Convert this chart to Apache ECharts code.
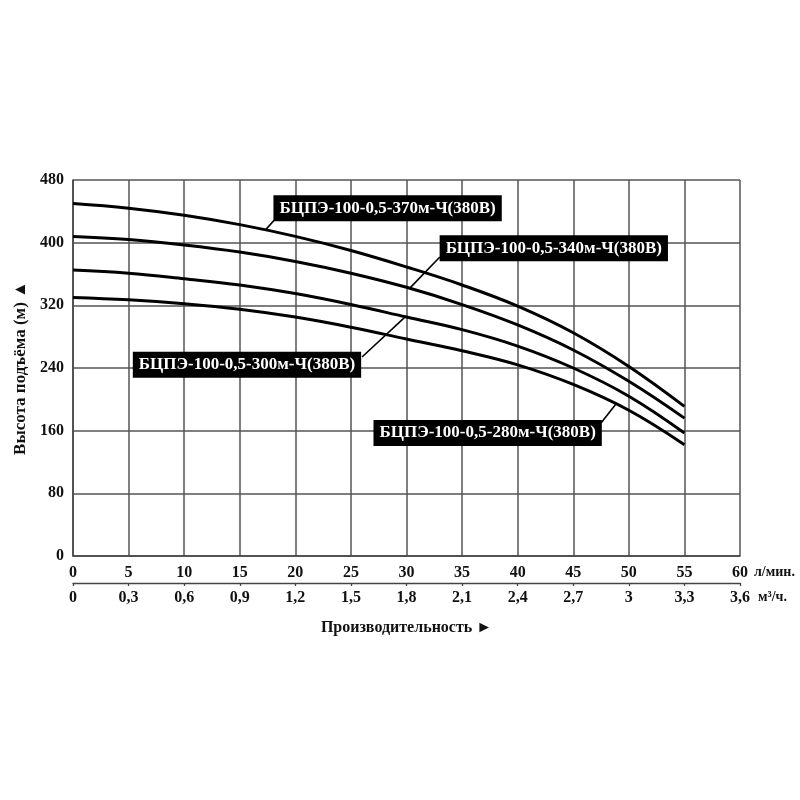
<!DOCTYPE html>
<html>
<head>
<meta charset="utf-8">
<script src="https://cdn.jsdelivr.net/npm/echarts@6/dist/echarts.min.js"></script>
<style>
html,body{margin:0;padding:0;background:#fff;}
#chart{width:800px;height:800px;}
</style>
</head>
<body>
<div id="chart"></div>
<script>
// Flow, l/min
var flowLmin = [0, 5, 10, 15, 20, 25, 30, 35, 40, 45, 50, 55];
// Head (m) for each pump model
var head370 = [450, 444, 435, 423, 408, 390, 369, 346, 319, 285, 242, 191];
var head340 = [408, 404, 397, 388, 376, 361, 343, 321, 295, 263, 223, 176];
var head300 = [365, 361, 354, 346, 335, 321, 305, 289, 268, 240, 204, 157];
var head280 = [330, 327, 322, 315, 305, 292, 277, 262, 244, 219, 186, 142];
var seriesNames = ['БЦПЭ-100-0,5-370м-Ч(380В)', 'БЦПЭ-100-0,5-340м-Ч(380В)', 'БЦПЭ-100-0,5-300м-Ч(380В)', 'БЦПЭ-100-0,5-280м-Ч(380В)'];
var yTicks = [0, 80, 160, 240, 320, 400, 480];
var xTicksLmin = [0, 5, 10, 15, 20, 25, 30, 35, 40, 45, 50, 55, 60];
var xTicksM3h = ['0', '0,3', '0,6', '0,9', '1,2', '1,5', '1,8', '2,1', '2,4', '2,7', '3', '3,3', '3,6'];

// annotation placement (data coordinates): label centre, leader start (on curve), leader end (at box)
var labelPos = [[28.3, 444], [43.25, 393], [15.65, 244], [37.3, 157]];
var leaderFrom = [[17.3, 416], [30.3, 342], [29.86, 305], [48.84, 194]];
var leaderTo = [[18.35, 432.8], [33.0, 381.7], [26.0, 254], [47.5, 169.8]];

var FONT = "'Liberation Serif', 'DejaVu Serif', 'Times New Roman', serif";
var heads = [head370, head340, head300, head280];

var chart = echarts.init(document.getElementById('chart'), null, {renderer: 'canvas'});

var series = heads.map(function (h, i) {
  return {
    name: seriesNames[i],
    type: 'line',
    xAxisIndex: 0,
    yAxisIndex: 0,
    smooth: 0.4,
    symbol: 'none',
    silent: true,
    lineStyle: {color: '#000', width: 3},
    data: flowLmin.map(function (x, j) { return [x, h[j]]; }),
    markLine: {
      silent: true,
      symbol: ['none', 'none'],
      lineStyle: {color: '#000', width: 1.6, type: 'solid'},
      label: {show: false},
      data: [[{coord: leaderFrom[i]}, {coord: leaderTo[i]}]]
    },
    markPoint: {
      silent: true,
      symbol: 'rect',
      symbolSize: 0,
      data: [{coord: labelPos[i], value: seriesNames[i]}],
      label: {
        show: true,
        position: 'inside',
        formatter: seriesNames[i],
        color: '#fff',
        backgroundColor: '#000',
        fontFamily: FONT,
        fontWeight: 'bold',
        fontSize: 17,
        padding: [4, 6, 3, 6],
        lineHeight: 19
      }
    }
  };
});

chart.setOption({
  backgroundColor: '#fff',
  animation: false,
  grid: {left: 73, right: 60, top: 180, bottom: 244, containLabel: false},
  xAxis: [{
    type: 'value',
    min: 0, max: 60, interval: 5,
    position: 'bottom',
    axisLine: {show: true, lineStyle: {color: '#444', width: 1.5}},
    axisTick: {show: false},
    axisLabel: {
      margin: 9,
      color: '#111', fontFamily: FONT, fontWeight: 'bold', fontSize: 16,
      formatter: function (v) { return String(v); }
    },
    splitLine: {show: true, lineStyle: {color: '#555', width: 1.5}}
  }, {
    type: 'value',
    min: 0, max: 60, interval: 5,
    position: 'bottom',
    offset: 27,
    axisLine: {show: true, lineStyle: {color: '#444', width: 1.3}},
    axisTick: {show: true, length: 3, lineStyle: {color: '#444', width: 1.3}},
    axisLabel: {
      margin: 7,
      color: '#111', fontFamily: FONT, fontWeight: 'bold', fontSize: 16,
      formatter: function (v) { return xTicksM3h[xTicksLmin.indexOf(v)]; }
    },
    splitLine: {show: false},
    name: 'Производительность ►',
    nameLocation: 'middle',
    nameGap: 37,
    nameTextStyle: {color: '#111', fontFamily: FONT, fontWeight: 'bold', fontSize: 16}
  }],
  yAxis: [{
    type: 'value',
    min: 0, max: 480, interval: 80,
    axisLine: {show: true, lineStyle: {color: '#444', width: 1.5}},
    axisTick: {show: false},
    axisLabel: {
      margin: 9,
      color: '#111', fontFamily: FONT, fontWeight: 'bold', fontSize: 16
    },
    splitLine: {show: true, lineStyle: {color: '#555', width: 1.5}},
    name: 'Высота подъёма (м) ▲',
    nameLocation: 'middle',
    nameRotate: 90,
    nameGap: 43,
    nameTextStyle: {color: '#111', fontFamily: FONT, fontWeight: 'bold', fontSize: 17}
  }],
  graphic: [{
    type: 'text',
    left: 754, top: 565,
    silent: true,
    style: {text: 'л/мин.', fill: '#111', font: "bold 14px 'Liberation Serif', serif"}
  }, {
    type: 'text',
    left: 758, top: 590,
    silent: true,
    style: {text: 'м³/ч.', fill: '#111', font: "bold 14px 'Liberation Serif', serif"}
  }],
  series: series
});
</script>
</body>
</html>
